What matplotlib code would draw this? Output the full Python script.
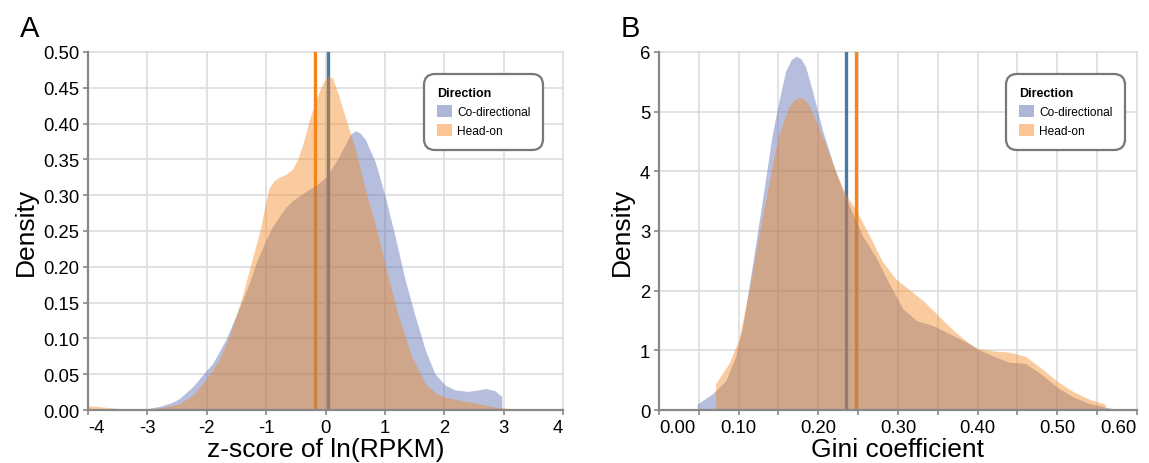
import matplotlib
matplotlib.use("Agg")
import matplotlib.pyplot as plt
from matplotlib.patches import Patch
from matplotlib.ticker import MultipleLocator, FormatStrFormatter

plt.rcParams['font.family'] = ['Liberation Sans', 'DejaVu Sans']

# Panel A: z-score of ln(RPKM) densities
za_co_x = [-3.3, -3.0, -2.8, -2.6, -2.46, -2.23, -2.0, -1.9, -1.68, -1.51, -1.34, -1.25, -1.17,
           -1.0, -0.9, -0.78, -0.67, -0.56, -0.34, -0.17, 0.0, 0.17, 0.34, 0.42, 0.5, 0.58, 0.67,
           0.84, 1.0, 1.17, 1.34, 1.51, 1.68, 1.84, 2.01, 2.18, 2.4, 2.57, 2.7, 2.85, 2.97, 2.97]
za_co_y = [0.0, 0.002, 0.005, 0.01, 0.016, 0.033, 0.056, 0.065, 0.098, 0.131, 0.165, 0.185, 0.205,
           0.238, 0.255, 0.27, 0.283, 0.292, 0.305, 0.313, 0.325, 0.346, 0.372, 0.385, 0.39, 0.387,
           0.378, 0.346, 0.3, 0.243, 0.182, 0.131, 0.084, 0.051, 0.035, 0.028, 0.026, 0.028, 0.03,
           0.027, 0.019, 0.0]
za_ho_x = [-4.0, -4.0, -3.85, -3.6, -3.3, -3.0, -2.8, -2.6, -2.46, -2.23, -2.0, -1.79, -1.62, -1.4,
           -1.23, -1.09, -1.02, -0.95, -0.87, -0.78, -0.67, -0.56, -0.47, -0.39, -0.25, -0.11,
           -0.03, 0.056, 0.12, 0.22, 0.3, 0.39, 0.5, 0.67, 0.89, 1.0, 1.23, 1.45, 1.68, 1.85, 2.01,
           2.3, 2.57, 2.8, 3.0, 3.2]
za_ho_y = [0.0, 0.006, 0.005, 0.003, 0.001, 0.001, 0.003, 0.006, 0.009, 0.021, 0.044, 0.07, 0.103,
           0.159, 0.212, 0.255, 0.285, 0.31, 0.32, 0.325, 0.329, 0.336, 0.35, 0.369, 0.411, 0.444,
           0.459, 0.467, 0.463, 0.44, 0.418, 0.394, 0.365, 0.308, 0.243, 0.205, 0.131, 0.075, 0.037,
           0.024, 0.018, 0.013, 0.009, 0.005, 0.003, 0.0]
za_means = {'Co-directional': 0.04, 'Head-on': -0.17}

# Panel B: Gini coefficient densities
gb_co_x = [0.048, 0.048, 0.067, 0.084, 0.096, 0.105, 0.117, 0.13, 0.142, 0.151, 0.159, 0.166,
           0.172, 0.178, 0.184, 0.193, 0.205, 0.218, 0.23, 0.243, 0.255, 0.272, 0.289, 0.306, 0.323,
           0.343, 0.36, 0.39, 0.40, 0.42, 0.44, 0.46, 0.48, 0.50, 0.52, 0.54, 0.56, 0.567, 0.567]
gb_co_y = [0.0, 0.1, 0.27, 0.49, 0.89, 1.39, 2.4, 3.53, 4.6, 5.2, 5.68, 5.87, 5.93, 5.89, 5.76, 5.33,
           4.7, 4.15, 3.7, 3.3, 2.93, 2.57, 2.12, 1.7, 1.5, 1.42, 1.31, 1.11, 1.02, 0.9, 0.8, 0.78,
           0.6, 0.38, 0.22, 0.11, 0.05, 0.03, 0.0]
gb_ho_x = [0.071, 0.071, 0.088, 0.1, 0.113, 0.125, 0.138, 0.15, 0.163, 0.17, 0.176, 0.182, 0.188,
           0.199, 0.21, 0.222, 0.235, 0.247, 0.264, 0.28, 0.297, 0.314, 0.331, 0.348, 0.369, 0.39,
           0.40, 0.42, 0.44, 0.46, 0.48, 0.50, 0.52, 0.54, 0.56, 0.56]
gb_ho_y = [0.0, 0.44, 0.78, 1.17, 2.0, 2.9, 3.8, 4.6, 5.08, 5.2, 5.24, 5.21, 5.12, 4.78, 4.43, 3.98,
           3.6, 3.36, 2.93, 2.5, 2.2, 2.02, 1.84, 1.62, 1.34, 1.11, 1.03, 0.99, 0.97, 0.9, 0.7, 0.48,
           0.31, 0.18, 0.1, 0.0]
gb_means = {'Co-directional': 0.2345, 'Head-on': 0.247}

directions = ['Co-directional', 'Head-on']
fill_colors = {'Co-directional': '#5b6fb5', 'Head-on': '#f58518'}
line_colors = {'Co-directional': '#4c78a8', 'Head-on': '#f58518'}
alphas = {'Co-directional': 0.45, 'Head-on': 0.42}

axis_gray = '#888888'
grid_gray = '#dddddd'

fig = plt.figure(figsize=(11.49, 4.64), dpi=100)
ax_a = fig.add_axes([0.0766, 0.1142, 0.4134, 0.7716])
ax_b = fig.add_axes([0.5735, 0.1142, 0.416, 0.7716])


def style_axis(ax):
    ax.set_axisbelow(True)
    for s in ['top', 'right']:
        ax.spines[s].set_visible(False)
    for s in ['left', 'bottom']:
        ax.spines[s].set_color(axis_gray)
        ax.spines[s].set_linewidth(1.6)
    ax.tick_params(which='both', direction='out', length=3.8, width=1.2, color=axis_gray,
                   labelsize=13.3, pad=2.5, labelcolor='black')
    ax.grid(True, which='both', color=grid_gray, linewidth=1.2)
    for gl in ax.get_xgridlines() + ax.get_ygridlines():
        gl.set_clip_on(False)


def draw_panel(ax, series, means):
    for d in directions:
        ax.axvline(means[d], color=line_colors[d], linewidth=2.4, zorder=1.5)
    for d in directions:
        x, y = series[d]
        ax.fill_between(x, y, 0, color=fill_colors[d], alpha=alphas[d], linewidth=0, zorder=2)
    return [Patch(facecolor=fill_colors[d], alpha=alphas[d] + 0.05, edgecolor='none') for d in directions]


def flush_labels(ax, lo, hi):
    for tick, loc in zip(ax.xaxis.get_major_ticks(), ax.xaxis.get_majorticklocs()):
        if abs(loc - lo) < 1e-9:
            tick.label1.set_horizontalalignment('left')
        elif abs(loc - hi) < 1e-9:
            tick.label1.set_horizontalalignment('right')


# Panel A
h = draw_panel(ax_a, {'Co-directional': (za_co_x, za_co_y), 'Head-on': (za_ho_x, za_ho_y)}, za_means)
ax_a.set_xlim(-4, 4)
ax_a.set_ylim(0, 0.5)
ax_a.xaxis.set_major_locator(MultipleLocator(1))
ax_a.yaxis.set_major_locator(MultipleLocator(0.05))
ax_a.yaxis.set_major_formatter(FormatStrFormatter('%.2f'))
ax_a.xaxis.set_major_formatter(FormatStrFormatter('%d'))
style_axis(ax_a)
ax_a.set_xlabel('z-score of ln(RPKM)', fontsize=19, labelpad=1)
ax_a.set_ylabel('Density', fontsize=19, labelpad=4)

# Panel B
draw_panel(ax_b, {'Co-directional': (gb_co_x, gb_co_y), 'Head-on': (gb_ho_x, gb_ho_y)}, gb_means)
ax_b.set_xlim(0, 0.6)
ax_b.set_ylim(0, 6)
ax_b.xaxis.set_major_locator(MultipleLocator(0.1))
ax_b.xaxis.set_minor_locator(MultipleLocator(0.05))
ax_b.xaxis.set_major_formatter(FormatStrFormatter('%.2f'))
ax_b.yaxis.set_major_locator(MultipleLocator(1))
style_axis(ax_b)
ax_b.set_xlabel('Gini coefficient', fontsize=19, labelpad=1)
ax_b.set_ylabel('Density', fontsize=19, labelpad=4)

fig.canvas.draw()
flush_labels(ax_a, -4, 4)
flush_labels(ax_b, 0.0, 0.6)

for ax, anchor in [(ax_a, (0.958, 0.9385)), (ax_b, (0.975, 0.9385))]:
    leg = ax.legend(h, directions, title='Direction', loc='upper right', bbox_to_anchor=anchor,
                    fontsize=8.6, title_fontproperties={'weight': 'bold', 'size': 9},
                    alignment='left', frameon=True, fancybox=True, handlelength=1.25,
                    handleheight=1.25, handletextpad=0.45, labelspacing=0.5, borderpad=1.05,
                    borderaxespad=0)
    fr = leg.get_frame()
    fr.set_edgecolor('#777777')
    fr.set_linewidth(1.6)
    fr.set_facecolor('white')
    fr.set_alpha(1)
    fr.set_boxstyle('round,pad=0,rounding_size=0.9')

fig.text(0.017, 0.92, 'A', fontsize=21, va='baseline')
fig.text(0.5405, 0.92, 'B', fontsize=21, va='baseline')

fig.savefig('out.png', dpi=100)
